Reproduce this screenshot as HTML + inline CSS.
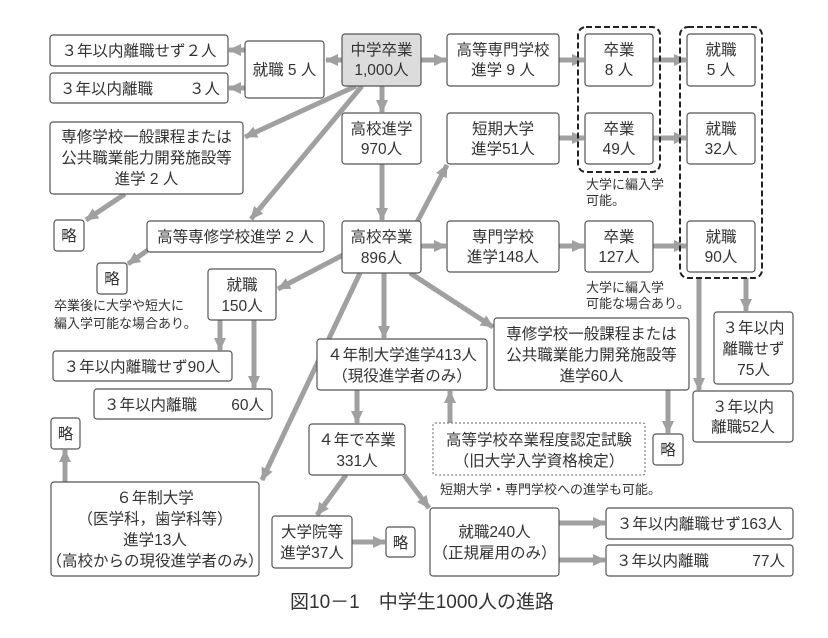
<!DOCTYPE html>
<html><head><meta charset="utf-8"><style>
html,body{margin:0;padding:0;background:#fff;}
svg{display:block;}
text{font-family:"Liberation Sans","Noto Sans CJK JP",sans-serif;fill:#333;}
.b{font-size:15.5px;}
.s{font-size:13px;}
</style></head><body>
<svg width="828" height="638" viewBox="0 0 828 638" xmlns="http://www.w3.org/2000/svg">
<defs>
<marker id="a" markerUnits="userSpaceOnUse" markerWidth="14" markerHeight="14" refX="12" refY="7" orient="auto">
<path d="M0,1 L13,7 L0,13 Z" fill="#a0a0a0"/>
</marker>
</defs>
<g stroke="#a0a0a0" stroke-width="5" fill="none" marker-end="url(#a)">
<line x1="342" y1="60" x2="326" y2="60"/>
<line x1="245" y1="50" x2="229" y2="50"/>
<line x1="245" y1="88" x2="229" y2="88"/>
<line x1="421" y1="60" x2="446" y2="60"/>
<line x1="559" y1="60" x2="584" y2="60"/>
<line x1="653" y1="60" x2="686" y2="60"/>
<line x1="382" y1="86" x2="382" y2="112"/>
<line x1="356" y1="86" x2="245" y2="137"/>
<line x1="362" y1="86" x2="251" y2="219"/>
<line x1="382" y1="164" x2="382" y2="220"/>
<line x1="125" y1="194" x2="86" y2="220"/>
<line x1="148" y1="250" x2="128" y2="264"/>
<line x1="415" y1="226" x2="447" y2="165"/>
<line x1="559" y1="138" x2="584" y2="138"/>
<line x1="653" y1="138" x2="686" y2="138"/>
<line x1="421" y1="246" x2="446" y2="246"/>
<line x1="559" y1="246" x2="584" y2="246"/>
<line x1="653" y1="246" x2="686" y2="246"/>
<line x1="343" y1="255" x2="278" y2="289"/>
<line x1="384" y1="273" x2="384" y2="338"/>
<line x1="410" y1="273" x2="493" y2="327"/>
<line x1="360" y1="273" x2="262" y2="480"/>
<line x1="220" y1="320" x2="220" y2="350"/>
<line x1="254" y1="320" x2="254" y2="388"/>
<line x1="746" y1="278" x2="746" y2="311"/>
<line x1="699" y1="278" x2="699" y2="390"/>
<line x1="357" y1="390" x2="357" y2="423"/>
<line x1="450" y1="423" x2="450" y2="391"/>
<line x1="668" y1="390" x2="668" y2="433"/>
<line x1="65" y1="482" x2="65" y2="450"/>
<line x1="346" y1="475" x2="317" y2="515"/>
<line x1="404" y1="475" x2="429" y2="508"/>
<line x1="352" y1="542" x2="385" y2="542"/>
<line x1="559" y1="523" x2="605" y2="523"/>
<line x1="559" y1="560" x2="605" y2="560"/>
</g>
<g fill="none" stroke="#222" stroke-width="2" stroke-dasharray="6,3">
<rect x="578" y="27" width="82" height="145" rx="8"/>
<rect x="680" y="27" width="82" height="251" rx="8"/>
</g>
<g fill="#fff" stroke="#555" stroke-width="1.2">
<rect x="342" y="34" width="79" height="52" rx="3" fill="#dcdcdc"/>
<rect x="245" y="41" width="79" height="57" rx="3"/>
<rect x="50" y="35" width="178" height="31" rx="3"/>
<rect x="50" y="73" width="178" height="30" rx="3"/>
<rect x="447" y="34" width="112" height="52" rx="3"/>
<rect x="585" y="34" width="68" height="52" rx="3"/>
<rect x="687" y="34" width="68" height="52" rx="3"/>
<rect x="342" y="113" width="79" height="51" rx="3"/>
<rect x="50" y="122" width="193" height="72" rx="3"/>
<rect x="447" y="113" width="112" height="51" rx="3"/>
<rect x="585" y="113" width="68" height="51" rx="3"/>
<rect x="687" y="113" width="68" height="51" rx="3"/>
<rect x="54" y="220" width="30" height="31" rx="3"/>
<rect x="147" y="221" width="177" height="31" rx="3"/>
<rect x="342" y="221" width="79" height="52" rx="3"/>
<rect x="447" y="221" width="112" height="51" rx="3"/>
<rect x="585" y="221" width="68" height="51" rx="3"/>
<rect x="687" y="221" width="68" height="51" rx="3"/>
<rect x="97" y="263" width="30" height="31" rx="3"/>
<rect x="208" y="269" width="68" height="51" rx="3"/>
<rect x="53" y="351" width="179" height="30" rx="3"/>
<rect x="94" y="389" width="178" height="30" rx="3"/>
<rect x="317" y="339" width="170" height="51" rx="3"/>
<rect x="494" y="318" width="195" height="72" rx="3"/>
<rect x="714" y="312" width="79" height="72" rx="3"/>
<rect x="693" y="391" width="100" height="51" rx="3"/>
<rect x="51" y="418" width="29" height="31" rx="3"/>
<rect x="309" y="424" width="96" height="51" rx="3"/>
<rect x="653" y="434" width="30" height="31" rx="3"/>
<rect x="51" y="482" width="208" height="94" rx="3"/>
<rect x="272" y="516" width="80" height="52" rx="3"/>
<rect x="386" y="527" width="29" height="30" rx="3"/>
<rect x="430" y="508" width="129" height="68" rx="3"/>
<rect x="606" y="508" width="187" height="31" rx="3"/>
<rect x="606" y="545" width="187" height="31" rx="3"/>
</g>
<rect x="433" y="423" width="212" height="52" rx="2" fill="#fff" stroke="#666" stroke-width="1" stroke-dasharray="2,2"/>
<g class="b" text-anchor="middle">
<text x="381.5" y="55">中学卒業</text><text x="381.5" y="75">1,000人</text>
<text x="284.5" y="75">就職 5 人</text>
<text x="139" y="56">３年以内離職せず２人</text>
<text x="503" y="55">高等専門学校</text><text x="503" y="75">進学 9 人</text>
<text x="619" y="55">卒業</text><text x="619" y="75">8 人</text>
<text x="721" y="55">就職</text><text x="721" y="75">5 人</text>
<text x="381.5" y="134">高校進学</text><text x="381.5" y="154">970人</text>
<text x="146.5" y="142">専修学校一般課程または</text><text x="146.5" y="163">公共職業能力開発施設等</text><text x="146.5" y="184">進学 2 人</text>
<text x="503" y="134">短期大学</text><text x="503" y="154">進学51人</text>
<text x="619" y="134">卒業</text><text x="619" y="154">49人</text>
<text x="721" y="134">就職</text><text x="721" y="154">32人</text>
<text x="69" y="241">略</text>
<text x="235.5" y="242">高等専修学校進学 2 人</text>
<text x="381.5" y="242">高校卒業</text><text x="381.5" y="263">896人</text>
<text x="503" y="242">専門学校</text><text x="503" y="262">進学148人</text>
<text x="619" y="242">卒業</text><text x="619" y="262">127人</text>
<text x="721" y="242">就職</text><text x="721" y="262">90人</text>
<text x="112" y="284">略</text>
<text x="242" y="290">就職</text><text x="242" y="311">150人</text>
<text x="142" y="372">３年以内離職せず90人</text>
<text x="402" y="360">４年制大学進学413人</text><text x="402" y="381">（現役進学者のみ）</text>
<text x="591.5" y="339">専修学校一般課程または</text><text x="591.5" y="360">公共職業能力開発施設等</text><text x="591.5" y="381">進学60人</text>
<text x="753.5" y="333">３年以内</text><text x="753.5" y="354">離職せず</text><text x="753.5" y="375">75人</text>
<text x="743" y="412">３年以内</text><text x="743" y="432">離職52人</text>
<text x="65.5" y="439">略</text>
<text x="357" y="445">４年で卒業</text><text x="357" y="466">331人</text>
<text x="539" y="445">高等学校卒業程度認定試験</text><text x="539" y="466">（旧大学入学資格検定）</text>
<text x="668" y="455">略</text>
<text x="155" y="503">６年制大学</text><text x="155" y="524">（医学科，歯学科等）</text><text x="155" y="545">進学13人</text><text x="155" y="566">（高校からの現役進学者のみ）</text>
<text x="312" y="537">大学院等</text><text x="312" y="558">進学37人</text>
<text x="400.5" y="548">略</text>
<text x="494.5" y="537">就職240人</text><text x="494.5" y="558">（正規雇用のみ）</text>
<text x="699.5" y="529">３年以内離職せず163人</text>
</g>
<g class="b">
<text x="60" y="94">３年以内離職</text><text x="220" y="94" text-anchor="end">３人</text>
<text x="104" y="410">３年以内離職</text><text x="264" y="410" text-anchor="end">60人</text>
<text x="616" y="566">３年以内離職</text><text x="785" y="566" text-anchor="end">77人</text>
</g>
<g class="s">
<text x="586" y="189">大学に編入学</text><text x="586" y="205">可能。</text>
<text x="586" y="292">大学に編入学</text><text x="586" y="308">可能な場合あり。</text>
<text x="54" y="310">卒業後に大学や短大に</text><text x="54" y="328">編入学可能な場合あり。</text>
<text x="440" y="494">短期大学・専門学校への進学も可能。</text>
</g>
<text x="422" y="608" text-anchor="middle" style="font-size:19px">図10－1　中学生1000人の進路</text>
</svg>
</body></html>
